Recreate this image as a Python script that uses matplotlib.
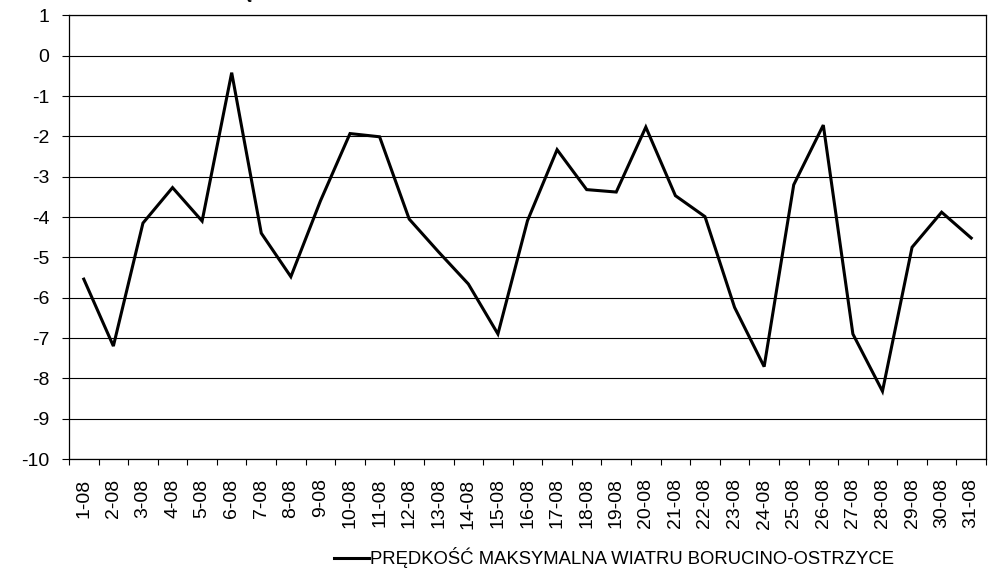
import numpy as np
import matplotlib.pyplot as plt

plt.rcParams['font.family'] = ['Liberation Sans', 'DejaVu Sans']

days = [f"{d}-08" for d in range(1, 32)]
wind_max = [-5.54, -7.20, -4.15, -3.27, -4.10, -0.42, -4.40, -5.48, -3.60, -1.93,
            -2.01, -4.05, -4.87, -5.66, -6.90, -4.09, -2.33, -3.32, -3.38, -1.77,
            -3.47, -3.99, -6.24, -7.71, -3.20, -1.72, -6.90, -8.32, -4.75, -3.88,
            -4.52]
series_name = "PRĘDKOŚĆ MAKSYMALNA WIATRU BORUCINO-OSTRZYCE"
y_ticks = list(range(-10, 2))

fig = plt.figure(figsize=(9.98, 5.71), dpi=100)
ax = fig.add_axes([69 / 998, 1 - 459 / 571, (986 - 69) / 998, (459 - 15.4) / 571])

x = np.arange(len(days))
ax.plot(x, wind_max, color='black', lw=2.2, label=series_name,
        solid_joinstyle='miter')

ax.set_xlim(-0.5, len(days) - 0.5)
ax.set_ylim(-10, 1)

ax.set_yticks(y_ticks)
ax.set_yticklabels([str(v) for v in y_ticks], fontsize=14)
ax.yaxis.grid(True, color='black', lw=0.8)
ax.set_axisbelow(True)

ax.set_xticks(x)
ax.set_xticklabels(days, rotation=90, fontsize=14, va='top', ha='center')
ax.set_xticks(np.arange(-0.5, len(days)), minor=True)
ax.tick_params(axis='x', which='major', length=0, pad=14)
ax.tick_params(axis='x', which='minor', length=4.5, width=0.8, direction='out')
ax.tick_params(axis='y', length=5, width=0.8, pad=9, direction='out')

for s in ax.spines.values():
    s.set_color('black')
    s.set_linewidth(0.9)

# chart title sits almost entirely above the picture edge, as in the source
fig.text(0.495, 1 + 1.5 / 571, series_name, ha='center', va='baseline',
         fontsize=14, fontweight='bold')

fig.legend(loc='center', bbox_to_anchor=(614 / 998, 1 - 558 / 571),
           frameon=False, fontsize=13.3, handlelength=1.9, handletextpad=0.05,
           borderpad=0)

fig.savefig('out.png', dpi=100)
